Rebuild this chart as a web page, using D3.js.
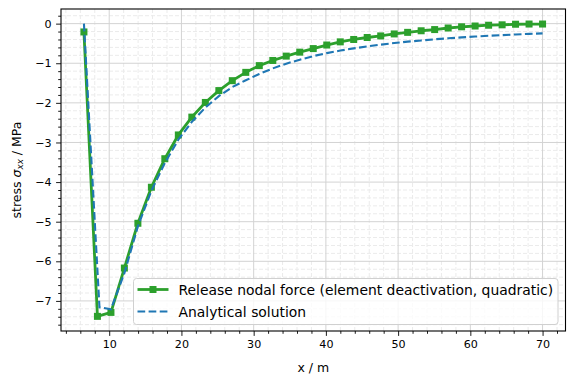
<!DOCTYPE html>
<html>
<head>
<meta charset="utf-8">
<script src="https://cdn.jsdelivr.net/npm/d3@7"></script>
<style>
  body { margin: 0; background: #fff; }
  svg { font-family: "DejaVu Sans", sans-serif; }
</style>
</head>
<body>
<div id="chart"></div>
<script>
// Data
var nodeX = [6.5, 8.37, 10.24, 12.1, 13.97, 15.84, 17.7, 19.57, 21.44, 23.31, 25.18, 27.04,
  28.91, 30.78, 32.65, 34.51, 36.38, 38.25, 40.12, 41.99, 43.85, 45.72, 47.59, 49.46,
  51.32, 53.19, 55.06, 56.93, 58.79, 60.66, 62.53, 64.4, 66.26, 68.13, 70.0];
var releaseForce = [-0.21, -7.39, -7.29, -6.17, -5.04, -4.13, -3.41, -2.81, -2.36, -1.99, -1.69, -1.44,
  -1.23, -1.06, -0.93, -0.82, -0.72, -0.63, -0.54, -0.46, -0.40, -0.35, -0.31, -0.26,
  -0.22, -0.18, -0.15, -0.11, -0.08, -0.06, -0.04, -0.03, -0.015, -0.01, -0.01];
var analyticalX = [6.5, 8.65, 10.24, 12.1, 13.97, 15.84, 17.7, 19.57, 21.44, 23.31, 25.18, 27.04,
  28.91, 30.78, 32.65, 34.51, 36.38, 38.25, 40.12, 41.99, 43.85, 45.72, 47.59, 49.46,
  51.32, 53.19, 55.06, 56.93, 58.79, 60.66, 62.53, 64.4, 66.26, 68.13, 70.0];
var analyticalStress = [0.0, -7.16, -7.21, -6.3, -5.12, -4.22, -3.52, -2.93, -2.48, -2.12, -1.83, -1.60,
  -1.43, -1.27, -1.13, -1.01, -0.91, -0.82, -0.745, -0.68, -0.625, -0.575, -0.53, -0.49,
  -0.455, -0.425, -0.395, -0.37, -0.347, -0.326, -0.307, -0.29, -0.273, -0.258, -0.245];

var xTicks = [10, 20, 30, 40, 50, 60, 70];
var yTicks = [0, -1, -2, -3, -4, -5, -6, -7];
var legendLabels = ["Release nodal force (element deactivation, quadratic)", "Analytical solution"];

var svgWidth = 575;
var svgHeight = 383;
var margin = { top: 9, right: 9.5, bottom: 52, left: 61 };
var width = svgWidth - margin.left - margin.right;
var height = svgHeight - margin.top - margin.bottom;

var green = "#2ca02c";
var blue = "#1f77b4";

var svg = d3.select("#chart")
  .append("svg")
  .attr("width", svgWidth)
  .attr("height", svgHeight);

var chartGroup = svg.append("g")
  .attr("transform", `translate(${margin.left}, ${margin.top})`);

// scales with matplotlib-like 5% margins
var allX = nodeX.concat(analyticalX);
var allY = releaseForce.concat(analyticalStress);
var xMin = d3.min(allX), xMax = d3.max(allX);
var yMin = d3.min(allY), yMax = d3.max(allY);
var xPad = (xMax - xMin) * 0.05, yPad = (yMax - yMin) * 0.05;

var xScale = d3.scaleLinear()
  .domain([xMin - xPad, xMax + xPad])
  .range([0, width]);

var yScale = d3.scaleLinear()
  .domain([yMin - yPad, yMax + yPad])
  .range([height, 0]);

var xMinor = d3.range(4, 73, 2).filter(v => v % 10 !== 0);
var yMinor = d3.range(-38, 2).map(v => v / 5).filter(v => !Number.isInteger(v));

// minor grid (dashed, very light)
chartGroup.append("g").selectAll("line")
  .data(xMinor)
  .enter().append("line")
  .attr("x1", d => xScale(d)).attr("x2", d => xScale(d))
  .attr("y1", 0).attr("y2", height)
  .attr("stroke", "#ebebeb").attr("stroke-width", 1)
  .attr("stroke-dasharray", "4,2");

chartGroup.append("g").selectAll("line")
  .data(yMinor)
  .enter().append("line")
  .attr("x1", 0).attr("x2", width)
  .attr("y1", d => yScale(d)).attr("y2", d => yScale(d))
  .attr("stroke", "#ebebeb").attr("stroke-width", 1)
  .attr("stroke-dasharray", "4,2");

// major grid
chartGroup.append("g").selectAll("line")
  .data(xTicks)
  .enter().append("line")
  .attr("x1", d => xScale(d)).attr("x2", d => xScale(d))
  .attr("y1", 0).attr("y2", height)
  .attr("stroke", "#d3d3d3").attr("stroke-width", 1);

chartGroup.append("g").selectAll("line")
  .data(yTicks)
  .enter().append("line")
  .attr("x1", 0).attr("x2", width)
  .attr("y1", d => yScale(d)).attr("y2", d => yScale(d))
  .attr("stroke", "#d3d3d3").attr("stroke-width", 1);

// lines
var greenLine = d3.line()
  .x((d, i) => xScale(nodeX[i]))
  .y(d => yScale(d));

chartGroup.append("path")
  .datum(releaseForce)
  .attr("d", greenLine)
  .attr("fill", "none")
  .attr("stroke", green)
  .attr("stroke-width", 2.8)
  .attr("stroke-linejoin", "round");

chartGroup.selectAll(".marker")
  .data(releaseForce)
  .enter().append("rect")
  .attr("class", "marker")
  .attr("x", (d, i) => xScale(nodeX[i]) - 3.5)
  .attr("y", d => yScale(d) - 3.5)
  .attr("width", 7).attr("height", 7)
  .attr("fill", green);

var blueLine = d3.line()
  .x((d, i) => xScale(analyticalX[i]))
  .y(d => yScale(d));

chartGroup.append("path")
  .datum(analyticalStress)
  .attr("d", blueLine)
  .attr("fill", "none")
  .attr("stroke", blue)
  .attr("stroke-width", 2.1)
  .attr("stroke-dasharray", "7.7,3.4");

// axes
var bottomAxis = d3.axisBottom(xScale).tickValues(xTicks).tickSize(4.9).tickPadding(4.5)
  .tickFormat(d3.format("d"));
var bottomMinor = d3.axisBottom(xScale).tickValues(xMinor).tickSize(2.8).tickFormat("");
var leftAxis = d3.axisLeft(yScale).tickValues(yTicks).tickSize(4.9).tickPadding(4.5)
  .tickFormat(d => d < 0 ? "\u2212" + Math.abs(d) : String(d));
var leftMinor = d3.axisLeft(yScale).tickValues(yMinor).tickSize(2.8).tickFormat("");

function styleAxis(g) {
  g.select(".domain").remove();
  g.selectAll("line").attr("stroke", "#000").attr("stroke-width", 0.9);
  g.selectAll("text").attr("fill", "#000").attr("font-size", 11.1)
    .attr("font-family", "DejaVu Sans, sans-serif");
}

chartGroup.append("g").attr("transform", `translate(0, ${height})`).call(bottomMinor).call(styleAxis);
chartGroup.append("g").attr("transform", `translate(0, ${height})`).call(bottomAxis).call(styleAxis);
chartGroup.append("g").call(leftMinor).call(styleAxis);
chartGroup.append("g").call(leftAxis).call(styleAxis);

// frame
chartGroup.append("rect")
  .attr("x", 0).attr("y", 0)
  .attr("width", width).attr("height", height)
  .attr("fill", "none")
  .attr("stroke", "#000")
  .attr("stroke-width", 1.1);

// axis labels
chartGroup.append("text")
  .attr("x", width / 2)
  .attr("y", height + 40.5)
  .attr("text-anchor", "middle")
  .attr("font-size", 12.5)
  .text("x / m");

var yLabel = chartGroup.append("text")
  .attr("transform", `translate(${-40.5}, ${height / 2}) rotate(-90)`)
  .attr("text-anchor", "middle")
  .attr("font-size", 12.5);
yLabel.append("tspan").text("stress ");
yLabel.append("tspan").attr("font-style", "italic").text("\u03c3");
yLabel.append("tspan").attr("font-style", "italic").attr("font-size", 8.8)
  .attr("dy", 2.8).text("xx");
yLabel.append("tspan").attr("dy", -2.8).text(" / MPa");

// legend
var legend = svg.append("g").attr("transform", "translate(133.5, 278.5)");
legend.append("rect")
  .attr("width", 424.5).attr("height", 46)
  .attr("rx", 3)
  .attr("fill", "#fff").attr("fill-opacity", 0.8)
  .attr("stroke", "#d0d0d0").attr("stroke-width", 1);

legend.append("line")
  .attr("x1", 4).attr("x2", 35).attr("y1", 11).attr("y2", 11)
  .attr("stroke", green).attr("stroke-width", 2.8);
legend.append("rect")
  .attr("x", 16).attr("y", 7.5).attr("width", 7).attr("height", 7)
  .attr("fill", green);
legend.append("line")
  .attr("x1", 4).attr("x2", 35).attr("y1", 33).attr("y2", 33)
  .attr("stroke", blue).attr("stroke-width", 2.1)
  .attr("stroke-dasharray", "7.7,3.4");

legend.selectAll(".ltext")
  .data(legendLabels)
  .enter().append("text")
  .attr("class", "ltext")
  .attr("x", 45)
  .attr("y", (d, i) => 16 + i * 22)
  .attr("font-size", 13.9)
  .attr("fill", "#000")
  .text(d => d);
</script>
</body>
</html>
